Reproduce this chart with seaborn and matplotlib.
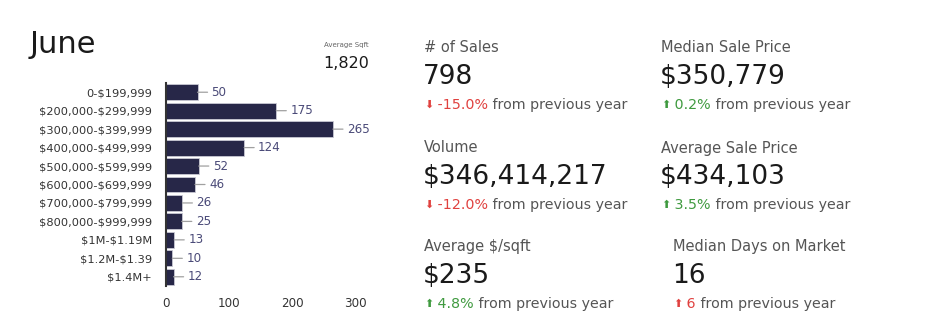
import matplotlib
matplotlib.use("Agg")
import matplotlib.pyplot as plt
import seaborn as sns
import pandas as pd

# ---- data ----
price_ranges = ["0-$199,999", "$200,000-$299,999", "$300,000-$399,999", "$400,000-$499,999",
                "$500,000-$599,999", "$600,000-$699,999", "$700,000-$799,999", "$800,000-$999,999",
                "$1M-$1.19M", "$1.2M-$1.39", "$1.4M+"]
sales_counts = [50, 175, 265, 124, 52, 46, 26, 25, 13, 10, 12]
x_ticks = [0, 100, 200, 300]

title = "June"
avg_sqft_label = "Average Sqft"
avg_sqft_value = "1,820"

kpi_labels = ["# of Sales", "Volume", "Average $/sqft",
              "Median Sale Price", "Average Sale Price", "Median Days on Market"]
kpi_values = ["798", "$346,414,217", "$235", "$350,779", "$434,103", "16"]
kpi_changes = ["-15.0%", "-12.0%", "4.8%", "0.2%", "3.5%", "6"]
kpi_direction = ["down", "down", "up", "up", "up", "up"]
kpi_good = [False, False, True, True, True, False]
change_suffix = " from previous year"

# ---- style ----
W, H = 934, 336
sns.set_theme(style="white")
plt.rcParams["font.family"] = ["DejaVu Sans"]
plt.rcParams["text.parse_math"] = False

BAR = "#272748"
RED = "#e0413f"
GREEN = "#3f9a3f"
GRAY = "#555555"
DARK = "#1a1a1a"

fig = plt.figure(figsize=(W / 100, H / 100), dpi=100)
fig.patch.set_facecolor("white")

def fx(px):
    return px / W

def fy(py):
    return 1 - py / H

# ---- bar chart ----
ax = fig.add_axes([fx(166), fy(286), fx(355) - fx(166), fy(83) - fy(286)])
df = pd.DataFrame({"range": price_ranges, "count": sales_counts})
sns.barplot(data=df, x="count", y="range", orient="h", color=BAR, saturation=1,
            width=0.86, edgecolor="#c8c8d4", linewidth=0.6, ax=ax)
ax.set_xlim(0, 300)
ax.set_xticks(x_ticks)
ax.set_xlabel("")
ax.set_ylabel("")
for s in ["top", "right", "bottom"]:
    ax.spines[s].set_visible(False)
ax.spines["left"].set_color("#333333")
ax.spines["left"].set_linewidth(1.5)
ax.tick_params(axis="both", length=0, labelsize=8.2, colors="#333333")
ax.tick_params(axis="y", pad=10)
ax.tick_params(axis="x", pad=8, labelsize=8.6)
ax.set_facecolor("white")

for i, v in enumerate(sales_counts):
    ax.annotate(str(v), xy=(v, i), xytext=(14, 0), textcoords="offset pixels",
                va="center", ha="left", fontsize=8.6, color="#4a4a78",
                annotation_clip=False,
                arrowprops=dict(arrowstyle="-", color="#a0a0a0", lw=0.9,
                                shrinkA=0.5, shrinkB=0))

# ---- header texts ----
fig.text(fx(30), fy(53), title, fontsize=22, color=DARK, ha="left", va="baseline")
fig.text(fx(324), fy(47), avg_sqft_label, fontsize=5, color="#666666", ha="left", va="baseline")
fig.text(fx(323), fy(68), avg_sqft_value, fontsize=11.5, color=DARK, ha="left", va="baseline")

# ---- KPI blocks ----
col_x = [424, 424, 424, 661, 661, 673]
row_y = [48, 148, 247, 48, 148, 247]

for k in range(6):
    x0 = col_x[k]
    y0 = row_y[k]
    fig.text(fx(x0), fy(y0), kpi_labels[k], fontsize=10.5, color=GRAY,
             ha="left", va="center")
    fig.text(fx(x0 - 1), fy(y0 + 29), kpi_values[k], fontsize=19, color=DARK,
             ha="left", va="center")
    col = GREEN if kpi_good[k] else RED
    arrow = "\u2B06" if kpi_direction[k] == "up" else "\u2B07"
    t1 = fig.text(fx(x0), fy(y0 + 62), arrow, fontsize=8, color=col,
                  ha="left", va="bottom")
    ann2 = plt.annotate(" " + kpi_changes[k], xy=(1, 0), xycoords=t1,
                        xytext=(0, -2), textcoords="offset pixels",
                        fontsize=10.3, color=col, ha="left", va="bottom",
                        annotation_clip=False)
    plt.annotate(change_suffix, xy=(1, 0), xycoords=ann2,
                 fontsize=10.3, color=GRAY, ha="left", va="bottom",
                 annotation_clip=False)

fig.savefig("out.png", dpi=100, facecolor="white")
